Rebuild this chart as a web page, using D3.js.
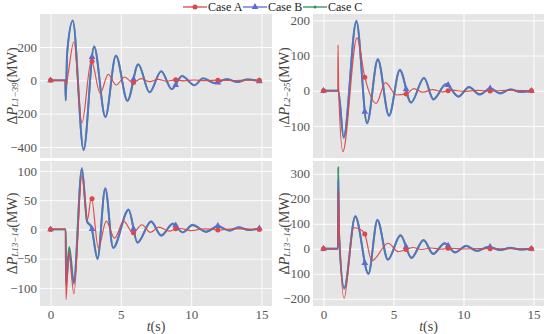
<!DOCTYPE html>
<html>
<head>
<meta charset="utf-8">
<script src="https://cdn.jsdelivr.net/npm/d3@7"></script>
<style>
  body { margin: 0; background: #fff; }
  svg, text { font-family: "Liberation Serif", "Times New Roman", "DejaVu Serif", serif; }
</style>
</head>
<body>
<svg id="chart" width="550" height="334" font-family="Liberation Serif, serif"></svg>
<script>
var cases = ['Case A', 'Case B', 'Case C'];
var markTimes = [0, 2.95, 5.9, 8.9, 11.9, 14.85];
var xTicks = [0, 5, 10, 15];

/* top left: L1-39 */
var tlA = [[0,0],[1.05,0],[1.12,-30],[1.22,20],[1.66,230],[2.23,-255],[2.9,118],[3.53,-78],[4.1,36],[4.67,-28],[5.26,20],[5.85,-14],[6.45,10],[7.05,-8],[7.65,6],[8.25,-5],[8.85,3],[9.5,-3],[10.2,2],[11,-2],[12,1],[13,-1],[14,1],[14.9,0]];
var tlB = [[0,0],[1.05,0],[1.08,-122],[1.18,160],[1.58,360],[2.35,-420],[3.1,205],[3.9,-222],[4.65,150],[5.47,-124],[6.24,97],[7.04,-73],[7.87,55],[8.62,-54],[9.35,26],[10.23,-30],[10.85,13],[11.66,-17],[12.53,7],[13.3,-11],[14.0,6],[14.9,-6]];
var tlC = [[0,0],[1.05,0],[1.08,-118],[1.18,165],[1.58,355],[2.35,-415],[3.1,200],[3.9,-218],[4.65,147],[5.47,-121],[6.24,95],[7.04,-71],[7.87,54],[8.62,-52],[9.35,25],[10.23,-29],[10.85,12],[11.66,-16],[12.53,7],[13.3,-10],[14.0,5],[14.9,-5]];

/* top right: L2-25 */
var trA = [[0,0],[1.02,0],[1.04,130],[1.08,5],[1.38,-173],[2.39,150],[2.94,40],[3.76,-36],[4.43,23],[5.2,-12],[5.93,-9],[6.45,6],[7.1,-4],[7.8,3],[8.5,-3],[9.2,2],[10,-2],[11,1],[12,-1],[13,1],[14.9,0]];
var trB = [[0,0],[1.05,0],[1.44,-134],[2.35,199],[3.11,-93],[3.88,90],[4.68,-72],[5.45,60],[6.25,-34],[7.18,37],[7.85,-25],[8.75,19],[9.64,-17],[10.4,11],[11.15,-11],[11.92,7],[12.63,-8],[13.35,4],[14.07,-4],[14.9,0]];
var trC = [[0,0],[1.05,0],[1.44,-131],[2.35,196],[3.11,-91],[3.88,88],[4.68,-70],[5.45,58],[6.25,-33],[7.18,36],[7.85,-24],[8.75,18],[9.64,-16],[10.4,10],[11.15,-10],[11.92,6],[12.63,-7],[13.35,4],[14.07,-3],[14.9,0]];

/* bottom left: L13-14 */
var blA = [[0,0],[1.08,0],[1.1,-120],[1.3,-38],[1.66,-110],[2.23,92],[2.62,16],[2.9,55],[3.4,-32],[3.96,14],[4.55,-15],[5.2,14],[5.85,-6],[6.5,8],[7.1,-5],[7.7,4],[8.4,-3],[9.1,2],[10,-2],[11,1],[12,-1],[13,1],[14.9,0]];
var blB = [[0,0],[1.08,0],[1.1,-95],[1.33,-40],[1.65,-93],[2.23,105],[2.6,14],[2.9,5],[3.34,-51],[3.89,71],[4.45,-32],[5.55,34],[6.18,-23],[7.15,14],[7.87,-11],[8.69,10],[9.4,-5],[10.1,8],[11.07,-4],[11.9,6],[12.7,-2],[13.4,4],[14.1,-1],[14.9,2]];
var blC = [[0,0],[1.08,0],[1.1,-90],[1.33,-30],[1.65,-90],[2.23,103],[2.6,13],[2.9,4],[3.34,-49],[3.89,69],[4.45,-31],[5.55,33],[6.18,-22],[7.15,13],[7.87,-10],[8.69,9],[9.4,-5],[10.1,7],[11.07,-4],[11.9,5],[12.7,-2],[13.4,3],[14.1,-1],[14.9,2]];

/* bottom right: L13-14 */
var brA = [[0,0],[1.03,0],[1.05,235],[1.09,140],[1.47,-198],[2.15,84],[2.55,80],[2.94,60],[3.45,-48],[4.62,22],[5.35,-12],[5.93,-2],[6.4,5],[7.0,-3],[7.7,3],[8.4,-2],[9.0,2],[10,-1],[11,1],[12,0],[14.9,0]];
var brB = [[0,0],[1.03,0],[1.05,275],[1.12,40],[1.48,-160],[2.27,131],[3.21,-101],[3.85,116],[4.6,-44],[5.5,55],[6.28,-37],[7.15,35],[7.83,-21],[8.65,22],[9.4,-15],[10.19,12],[10.96,-9],[11.8,8],[12.63,-5],[13.35,4],[14.07,-3],[14.9,0]];
var brC = [[0,0],[1.03,0],[1.05,328],[1.12,45],[1.48,-156],[2.27,128],[3.21,-99],[3.85,113],[4.6,-43],[5.5,53],[6.28,-36],[7.15,34],[7.83,-20],[8.65,21],[9.4,-14],[10.19,11],[10.96,-8],[11.8,7],[12.63,-5],[13.35,3],[14.07,-3],[14.9,0]];

var tlTicks = [-400, -200, 0, 200];
var trTicks = [-100, 0, 100, 200];
var blTicks = [-100, -50, 0, 50, 100];
var brTicks = [-200, -100, 0, 100, 200, 300];
var lineNames = ['L1\u221239', 'L2\u221225', 'L13\u221214', 'L13\u221214'];

var colors = ['#d9484a', '#5b6dd2', '#2f8f5f'];
var FONT = '"Liberation Serif", "Times New Roman", serif';

var svg = d3.select('#chart');

// no selection-multi here, so a small helper
function set(sel, a, s){
  Object.keys(a || {}).forEach(function(k){ sel.attr(k, a[k]); });
  Object.keys(s || {}).forEach(function(k){ sel.style(k, s[k]); });
  return sel;
}

var panels = [
  { x: 40,  y: 14,  w: 232, h: 144, dom: [-466, 398], ticks: tlTicks, name: lineNames[0], series: [tlA, tlB, tlC], bottom: false },
  { x: 313, y: 14,  w: 231, h: 144, dom: [-191, 218], ticks: trTicks, name: lineNames[1], series: [trA, trB, trC], bottom: false },
  { x: 40,  y: 161, w: 232, h: 145, dom: [-131, 117], ticks: blTicks, name: lineNames[2], series: [blA, blB, blC], bottom: true },
  { x: 313, y: 161, w: 231, h: 145, dom: [-229, 351], ticks: brTicks, name: lineNames[3], series: [brA, brB, brC], bottom: true }
];

function pointAtX(node, px){
  var lo = 0, hi = node.getTotalLength();
  for (var i = 0; i < 40; i++){
    var mid = 0.5*(lo + hi);
    if (node.getPointAtLength(mid).x < px) lo = mid; else hi = mid;
  }
  return node.getPointAtLength(hi);
}

function drawMarker(g, k, px, py){
  if (k == 0){
    set(g.append('circle'), { cx: px, cy: py, r: 2.5 }, { fill: colors[0] });
  } else if (k == 1){
    set(g.append('path'), { d: d3.symbol().type(d3.symbolTriangle).size(20)(), transform: 'translate(' + px + ',' + py + ')' }, { fill: colors[1] });
  } else {
    set(g.append('circle'), { cx: px, cy: py, r: 1.5 }, { fill: colors[2] });
  }
}

panels.forEach(function(p, i){
  var g = svg.append('g').attr('transform', 'translate(' + p.x + ',' + p.y + ')');
  var x = d3.scaleLinear().domain([-0.75, 15.75]).range([0, p.w]);
  var y = d3.scaleLinear().domain(p.dom).range([p.h, 0]);

  set(g.append('rect'), { width: p.w, height: p.h }, { fill: '#e5e5e5' });

  /* grid + tick labels */
  var gx = g.append('g').attr('transform', 'translate(0,' + p.h + ')')
    .call(d3.axisBottom(x).tickValues(xTicks).tickSize(-p.h).tickPadding(4).tickFormat(p.bottom ? d3.format('d') : ''));
  var gy = g.append('g')
    .call(d3.axisLeft(y).tickValues(p.ticks).tickSize(-p.w).tickPadding(3));
  [gx, gy].forEach(function(a){
    a.attr('font-family', null).attr('font-size', null);
    a.select('.domain').remove();
    a.selectAll('line').style('stroke', '#fff').style('stroke-width', 0.9);
    a.selectAll('text').style('font-size', '13px').style('fill', '#555').style('font-family', FONT);
  });

  /* clip */
  var cid = 'clip' + i;
  set(g.append('clipPath').attr('id', cid).append('rect'), { width: p.w, height: p.h });
  var lg = g.append('g').attr('clip-path', 'url(#' + cid + ')');

  var line = d3.line().x(function(d){ return x(d[0]); }).y(function(d){ return y(d[1]); }).curve(d3.curveMonotoneX);

  var order = [2, 1, 0];
  var widths = [1.2, 1.9, 1.9];
  var paths = [];
  order.forEach(function(k){
    paths[k] = set(lg.append('path'), { d: line(p.series[k]) },
      { fill: 'none', stroke: colors[k], 'stroke-width': widths[k], 'stroke-opacity': k == 1 ? 0.85 : 0.95 });
  });
  order.forEach(function(k){
    var node = paths[k].node();
    markTimes.forEach(function(t){
      var pt = pointAtX(node, x(t));
      drawMarker(lg, k, pt.x, pt.y);
    });
  });

  /* y label */
  var lx = (i % 2 == 0) ? 12 - p.x : 284 - p.x;
  var lab = set(g.append('text'),
    { transform: 'translate(' + lx + ',' + (p.h/2) + ') rotate(-90)', 'text-anchor': 'middle', 'dominant-baseline': 'central' },
    { 'font-size': '14px', fill: '#444', 'font-family': FONT });
  lab.append('tspan').text('\u0394');
  lab.append('tspan').style('font-style', 'italic').text('P');
  lab.append('tspan').attr('dy', 3).style('font-size', '9px').style('font-style', 'italic').text(p.name);
  lab.append('tspan').attr('dy', -3).text('(MW)');

  if (p.bottom){
    var xl = set(g.append('text'), { x: p.w/2, y: p.h + 25, 'text-anchor': 'middle' }, { 'font-size': '14px', fill: '#444', 'font-family': FONT });
    xl.append('tspan').style('font-style', 'italic').text('t');
    xl.append('tspan').text('(s)');
  }
});

/* legend */
var legX = [183, 243, 303];
cases.forEach(function(c, k){
  var lg = svg.append('g').attr('transform', 'translate(' + legX[k] + ',7)');
  set(lg.append('line'), { x1: 0, x2: 24, y1: 0, y2: 0 }, { stroke: colors[k], 'stroke-width': 1.3 });
  drawMarker(lg, k, 12, 0);
  set(lg.append('text'), { x: 25, y: 4 }, { 'font-size': '12px', fill: '#222', 'font-family': FONT }).text(c);
});
</script>
</body>
</html>
